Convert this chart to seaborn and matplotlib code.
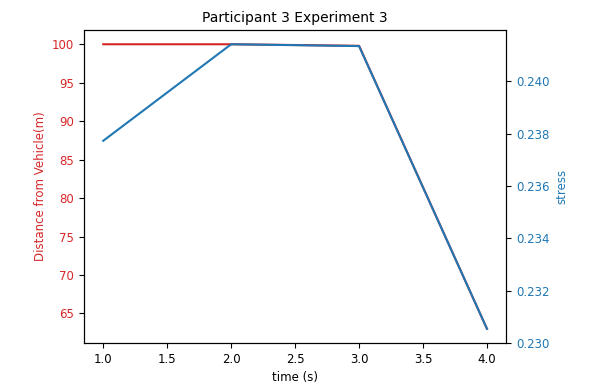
import matplotlib
matplotlib.use("Agg")
import matplotlib.pyplot as plt
import seaborn as sns
import pandas as pd

# Data
time_s = [1.0, 2.0, 3.0, 4.0]
distance_m = [100.0, 100.0, 99.8, 63.0]
stress = [0.23773, 0.24142, 0.24135, 0.23054]

df = pd.DataFrame({"time": time_s, "distance": distance_m, "stress": stress})

plt.rcParams["font.family"] = ["DejaVu Sans"]
plt.rcParams["font.size"] = 8.5

fig, ax1 = plt.subplots(figsize=(5.92, 3.85), dpi=100)
fig.subplots_adjust(left=0.142, right=0.855, bottom=0.109, top=0.922)

red = "tab:red"
blue = "tab:blue"

sns.lineplot(x="time", y="distance", data=df, color=red, ax=ax1)
ax1.set_xlabel("time (s)")
ax1.set_ylabel("Distance from Vehicle(m)", color=red)
ax1.tick_params(axis="y", labelcolor=red)

ax2 = ax1.twinx()
sns.lineplot(x="time", y="stress", data=df, color=blue, ax=ax2)
ax2.set_ylabel("stress", color=blue)
ax2.tick_params(axis="y", labelcolor=blue)

ax1.set_title("Participant 3 Experiment 3", fontsize=10)

fig.savefig("out.png", dpi=100)
